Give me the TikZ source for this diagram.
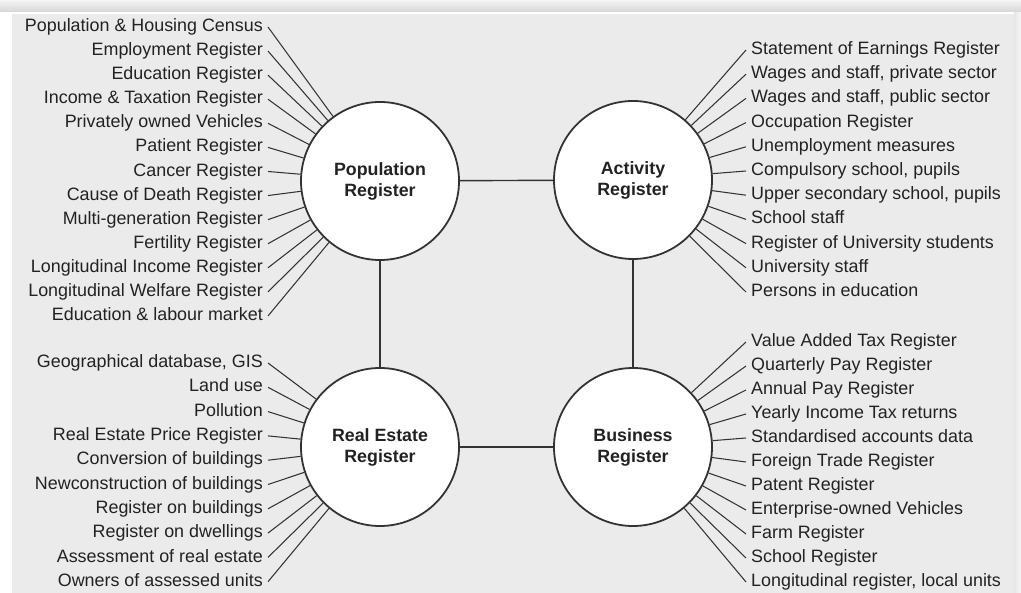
\documentclass[tikz,border=0pt]{standalone}
\usepackage{fontspec}
\setmainfont{Liberation Sans}
\definecolor{panel}{HTML}{EBEBEB}
\definecolor{txt}{HTML}{222222}
\definecolor{ln}{HTML}{333333}
\begin{document}
\begin{tikzpicture}[x=1pt,y=-1pt,
  lbl/.style={font=\fontsize{17.9}{21}\selectfont, text=txt, inner sep=5pt, text height=12.8pt, text depth=3.6pt},
  reg/.style={circle, draw=ln, line width=1.8pt, fill=white, minimum size=158pt, inner sep=0pt, align=center, font=\bfseries\fontsize{17.8}{21}\selectfont, text=txt},
  spoke/.style={draw=ln, line width=1.05pt},
  link/.style={draw=ln, line width=1.4pt}]
\useasboundingbox (0,0) rectangle (1021,593);
% background and shadow
\fill[white] (0,0) rectangle (1021,593);
\foreach \k in {0,...,11} {
  \pgfmathtruncatemacro\c{4+\k}
  \fill[black!\c] (0,\k) rectangle (1021,\k+1);
}
\foreach \k in {0,...,6} {
  \pgfmathtruncatemacro\c{4+\k}
  \fill[black!\c] (1021-\k,12) rectangle (1020-\k,593);
}
\fill[panel] (12,13) rectangle (1014,593);
\draw[white, line width=1.5pt] (12,12.8) -- (1014,12.8);
% register circles
\node[reg] (pop) at (380,181) {Population\\Register};
\node[reg] (act) at (633,180) {Activity\\Register};
\node[reg] (re)  at (380,447) {Real Estate\\Register};
\node[reg] (bus) at (633,447) {Business\\Register};
\draw[link] (pop) -- (act);
\draw[link] (re) -- (bus);
\draw[link] (pop) -- (re);
\draw[link] (act) -- (bus);
% population labels
\foreach \t [count=\i from 0] in {{Population \& Housing Census},{Employment Register},{Education Register},{Income \& Taxation Register},{Privately owned Vehicles},{Patient Register},{Cancer Register},{Cause of Death Register},{Multi-generation Register},{Fertility Register},{Longitudinal Income Register},{Longitudinal Welfare Register},{Education \& labour market}} {
  \node[lbl, anchor=east] (p\i) at (268,27+24.08*\i) {\t};
  \draw[spoke] (p\i.east) -- (pop);
}
% activity labels
\foreach \t [count=\i from 0] in {{Statement of Earnings Register},{Wages and staff, private sector},{Wages and staff, public sector},{Occupation Register},{Unemployment measures},{Compulsory school, pupils},{Upper secondary school, pupils},{School staff},{Register of University students},{University staff},{Persons in education}} {
  \node[lbl, anchor=west] (a\i) at (746,50+24.2*\i) {\t};
  \draw[spoke] (a\i.west) -- (act);
}
% real estate labels
\foreach \t [count=\i from 0] in {{Geographical database, GIS},{Land use},{Pollution},{Real Estate Price Register},{Conversion of buildings},{Newconstruction of buildings},{Register on buildings},{Register on dwellings},{Assessment of real estate},{Owners of assessed units}} {
  \node[lbl, anchor=east] (r\i) at (268,363+24.3*\i) {\t};
  \draw[spoke] (r\i.east) -- (re);
}
% business labels
\foreach \t [count=\i from 0] in {{Value Added Tax Register},{Quarterly Pay Register},{Annual Pay Register},{Yearly Income Tax returns},{Standardised accounts data},{Foreign Trade Register},{Patent Register},{Enterprise-owned Vehicles},{Farm Register},{School Register},{Longitudinal register, local units}} {
  \node[lbl, anchor=west] (b\i) at (746,342+24*\i) {\t};
  \draw[spoke] (b\i.west) -- (bus);
}
\end{tikzpicture}
\end{document}
